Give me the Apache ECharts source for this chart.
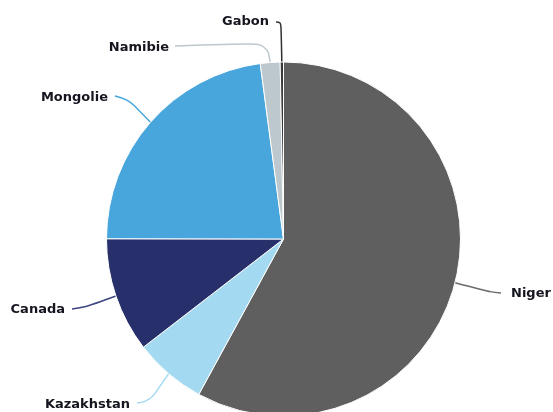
<!DOCTYPE html>
<html>
<head>
<meta charset="utf-8">
<script src="https://cdn.jsdelivr.net/npm/echarts@6/dist/echarts.min.js"></script>
<style>html,body{margin:0;padding:0;background:#fff}#c{width:553px;height:412px}</style>
</head>
<body>
<div id="c"></div>
<script>
const categories = ['Niger', 'Kazakhstan', 'Canada', 'Mongolie', 'Namibie', 'Gabon'];
const values = [58.0, 6.6, 10.5, 22.9, 1.8, 0.3];

const sliceColors = ['#5f5f5f', '#a3d9f1', '#27306b', '#48a6dc', '#bcc8cd', '#3a3a3a'];
const lineColors = ['#6a6a6a', '#a3d9f1', '#3c4380', '#48a6dc', '#bcc8cd', '#333333'];
// label anchor (x, y, align) and guide-line bend/end points (styling only)
const labelSpots = [
  { x: 511, y: 294, align: 'left', pts: [[490, 292], [501, 293]] },
  { x: 130, y: 405, align: 'right', pts: [[150, 401], [137, 403]] },
  { x: 65, y: 310, align: 'right', pts: [[86, 307], [72, 309]] },
  { x: 108, y: 98, align: 'right', pts: [[128, 99], [115, 96]] },
  { x: 169, y: 48, align: 'right', pts: [[267, 43], [175, 46]] },
  { x: 269, y: 22, align: 'right', pts: [[281, 22], [276, 22]] }
];

const chart = echarts.init(document.getElementById('c'), null, { renderer: 'canvas' });
chart.setOption({
  animation: false,
  backgroundColor: '#ffffff',
  series: [{
    type: 'pie',
    center: [283.5, 239],
    radius: 177,
    startAngle: 90,
    clockwise: true,
    avoidLabelOverlap: false,
    data: categories.map((n, i) => ({
      name: n,
      value: values[i],
      itemStyle: { color: sliceColors[i] },
      labelLine: { lineStyle: { color: lineColors[i] } }
    })),
    itemStyle: { borderColor: '#ffffff', borderWidth: 1 },
    label: {
      show: true,
      position: 'outside',
      formatter: '{b}',
      fontFamily: '"DejaVu Sans", sans-serif',
      fontWeight: 'bold',
      fontSize: 13,
      color: '#151520'
    },
    labelLine: {
      show: true,
      smooth: 0.4,
      length: 15,
      length2: 15,
      lineStyle: { width: 1.5 }
    },
    labelLayout: function (params) {
      const s = labelSpots[params.dataIndex];
      const start = params.labelLinePoints ? params.labelLinePoints[0] : s.pts[0];
      return {
        x: s.x,
        y: s.y,
        align: s.align,
        verticalAlign: 'middle',
        labelLinePoints: [start, s.pts[0], s.pts[1]]
      };
    }
  }]
});
</script>
</body>
</html>
